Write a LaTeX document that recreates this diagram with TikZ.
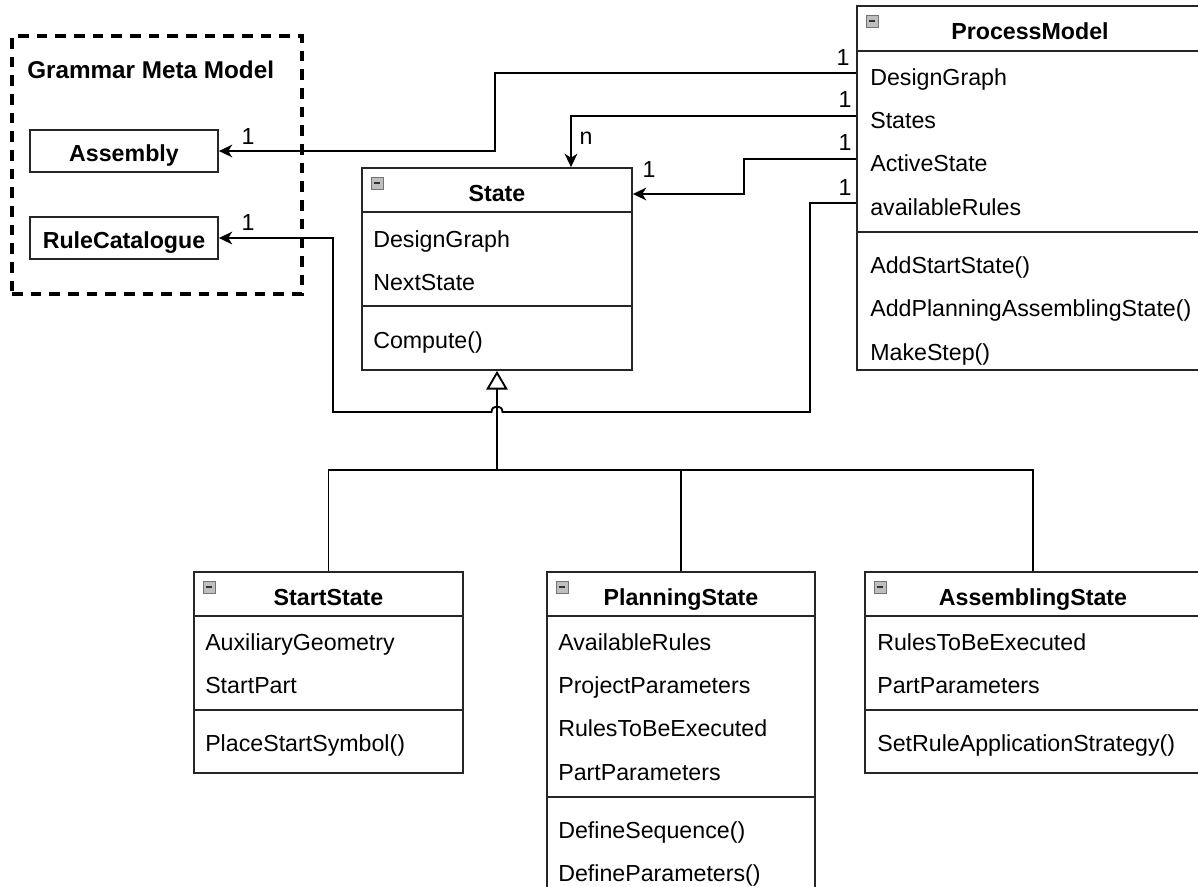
\documentclass[tikz,border=0pt]{standalone}
\usepackage{fontspec}
\setmainfont{Liberation Sans}
\usetikzlibrary{arrows.meta,fit,calc}
\newcommand\umlfont{\fontsize{17.4}{20}\selectfont}
\begin{document}
\begin{tikzpicture}[x=0.75pt,y=-0.75pt,
  cls/.style={draw=black!85, line width=1.35pt, fill=white, inner sep=0pt},
  sepline/.style={draw=black!85, line width=1.35pt},
  attr/.style={anchor=west, inner sep=0pt, font=\umlfont, text height=18.3pt, text depth=0pt},
  ttl/.style={inner sep=0pt, font=\umlfont\bfseries, text height=18.3pt, text depth=0pt},
  mult/.style={inner sep=0pt, font=\umlfont},
  wire/.style={draw=black, line width=1.4pt},
  assoc/.style={wire, -{Stealth[length=10pt,width=9.5pt,inset=3pt]}},
  inh/.style={wire, -{Triangle[open,length=14pt,width=16pt]}},
  icon/.style={draw=black!55, fill=black!25, minimum size=9pt, inner sep=0pt, line width=0.7pt,
    path picture={\draw[black!80, line width=1.2pt]
      ([xshift=2pt]path picture bounding box.west) -- ([xshift=-2pt]path picture bounding box.east);}},
  group/.style={draw=black, line width=2.6pt, dash pattern=on 8pt off 6pt, inner sep=0pt},
]
\path[use as bounding box, clip] (0,0) rectangle (1198,886);
\fill[white] (0,0) rectangle (1198,886);

% ---- Grammar meta model package ----
\node[group, fit={(12,36)(302,294)}] (gmm) {};
\node[ttl, anchor=west, font=\fontsize{18.2}{20}\selectfont\bfseries] (gmmT) at (27,66) {Grammar Meta Model};
\node[cls, fit={(30,130)(218,172)}] (asm) {};
\node[ttl] (asmT) at (124,149) {Assembly};
\node[cls, fit={(30,217)(218,259)}] (rc) {};
\node[ttl] (rcT) at (124,236) {RuleCatalogue};

% ---- State ----
\node[cls, fit={(362,168)(632,370)}] (state) {};
\draw[sepline] (362,212) -- (632,212);
\draw[sepline] (362,306) -- (632,306);
\node[icon] (stIcon) at (377,183) {};
\node[ttl] (stT) at (497,189) {State};
\node[attr] (stA1) at (373,235) {DesignGraph};
\node[attr] (stA2) at (373,278) {NextState};
\node[attr] (stM1) at (373,336) {Compute()};

% ---- ProcessModel ----
\node[cls, fit={(857,6)(1203,370)}] (pm) {};
\draw[sepline] (857,51) -- (1203,51);
\draw[sepline] (857,232) -- (1203,232);
\node[icon] (pmIcon) at (872,21) {};
\node[ttl] (pmT) at (1030,27) {ProcessModel};
\node[attr] (pmA1) at (870,73) {DesignGraph};
\node[attr] (pmA2) at (870,116) {States};
\node[attr] (pmA3) at (870,159) {ActiveState};
\node[attr] (pmA4) at (870,203) {availableRules};
\node[attr] (pmM1) at (870,261) {AddStartState()};
\node[attr] (pmM2) at (870,304) {AddPlanningAssemblingState()};
\node[attr] (pmM3) at (870,348) {MakeStep()};

% ---- StartState ----
\node[cls, fit={(194,572)(463,773)}] (ss) {};
\draw[sepline] (194,616) -- (463,616);
\draw[sepline] (194,710) -- (463,710);
\node[icon] (ssIcon) at (209,587) {};
\node[ttl] (ssT) at (328.5,593) {StartState};
\node[attr] (ssA1) at (205,638) {AuxiliaryGeometry};
\node[attr] (ssA2) at (205,681) {StartPart};
\node[attr] (ssM1) at (205,739) {PlaceStartSymbol()};

% ---- PlanningState ----
\node[cls, fit={(547,572)(815,905)}] (ps) {};
\draw[sepline] (547,616) -- (815,616);
\draw[sepline] (547,797) -- (815,797);
\node[icon] (psIcon) at (562,587) {};
\node[ttl] (psT) at (681,593) {PlanningState};
\node[attr] (psA1) at (558,638) {AvailableRules};
\node[attr] (psA2) at (558,681) {ProjectParameters};
\node[attr] (psA3) at (558,724) {RulesToBeExecuted};
\node[attr] (psA4) at (558,768) {PartParameters};
\node[attr] (psM1) at (558,826) {DefineSequence()};
\node[attr] (psM2) at (558,869) {DefineParameters()};

% ---- AssemblingState ----
\node[cls, fit={(865,572)(1201,773)}] (as) {};
\draw[sepline] (865,616) -- (1201,616);
\draw[sepline] (865,710) -- (1201,710);
\node[icon] (asIcon) at (880,587) {};
\node[ttl] (asT) at (1033,593) {AssemblingState};
\node[attr] (asA1) at (877,638) {RulesToBeExecuted};
\node[attr] (asA2) at (877,681) {PartParameters};
\node[attr] (asM1) at (877,739) {SetRuleApplicationStrategy()};

% ---- bend points ----
\coordinate (jA) at (495,0);
\coordinate (jB) at (571,0);
\coordinate (jC) at (744,0);
\coordinate (rowAS) at (0,194);
\coordinate (jD) at (810,412);
\coordinate (jE) at (333,412);
\coordinate (hopR) at (502.5,412);
\coordinate (hopL) at (491.5,412);
\coordinate (jI) at (497,470);

% ---- generalisation ----
\draw[inh] (jI) -- (state.south);
\draw[wire] (ss.north) -- (ss.north |- jI) -- (as.north |- jI) -- (as.north);
\draw[wire] (ps.north) -- (ps.north |- jI);

% ---- associations ----
\draw[assoc] (pm.west |- pmA1) -- (jA |- pmA1) -- (jA |- asm.east) -- (asm.east);
\draw[assoc] (pm.west |- pmA2) -- (jB |- pmA2) -- (jB |- state.north);
\draw[assoc] (pm.west |- pmA3) -- (jC |- pmA3) -- (jC |- rowAS) -- (state.east |- rowAS);
\draw[assoc] (pm.west |- pmA4) -- (jD |- pmA4) -- (jD) -- (hopR)
  .. controls ($(hopR)+(0,-7.5)$) and ($(hopL)+(0,-7.5)$) .. (hopL)
  -- (jE) -- (jE |- rc.east) -- (rc.east);

% ---- multiplicities ----
\node[mult] (m1) at (843,58) {1};
\node[mult] (m2) at (845,100) {1};
\node[mult] (m3) at (845,143) {1};
\node[mult] (m4) at (845,188) {1};
\node[mult] (mA) at (248,137) {1};
\node[mult] (mR) at (248,223) {1};
\node[mult] (mn) at (586,138) {n};
\node[mult] (mS) at (649,170) {1};
\end{tikzpicture}
\end{document}
